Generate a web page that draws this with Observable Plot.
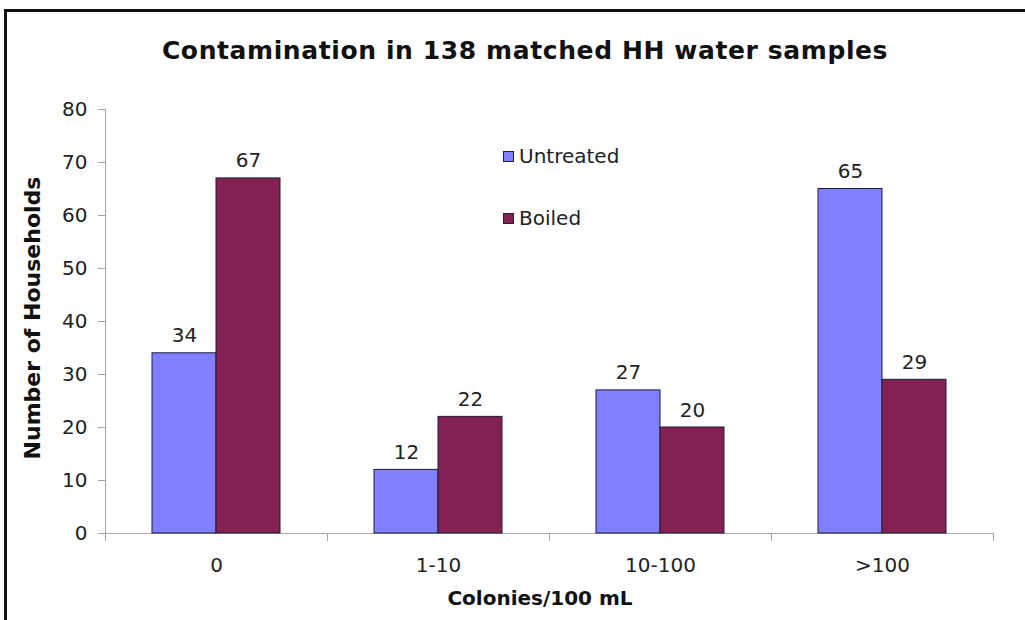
<!DOCTYPE html>
<html>
<head>
<meta charset="utf-8">
<script src="https://cdn.jsdelivr.net/npm/d3@7"></script>
<script src="https://cdn.jsdelivr.net/npm/@observablehq/plot@0.6"></script>
<style>
  html, body { margin: 0; padding: 0; background: #fff; }
  #wrap { position: relative; width: 1025px; height: 620px; overflow: hidden; font-family: "DejaVu Sans", Verdana, sans-serif; color: #222; }
  #frame { position: absolute; left: 4px; top: 9px; right: -10px; bottom: -10px; border-top: 3px solid #111; border-left: 3px solid #111; }
  #title { position: absolute; left: 525px; top: 50px; transform: translate(-50%, -50%); font-size: 25px; letter-spacing: 0.6px; font-weight: bold; color: #111; white-space: nowrap; }
  #ylab { position: absolute; left: 32px; top: 318px; transform: translate(-50%, -50%) rotate(-90deg); font-size: 22px; font-weight: bold; color: #111; white-space: nowrap; }
  #xlab { position: absolute; left: 540px; top: 598px; transform: translate(-50%, -50%); font-size: 20px; font-weight: bold; color: #111; white-space: nowrap; }
  #chart { position: absolute; left: 0; top: 0; }
  .leg { position: absolute; left: 503px; font-size: 20px; color: #222; white-space: nowrap; display: flex; align-items: center; transform: translateY(-50%); }
  .leg span.sw { display: inline-block; width: 9px; height: 9px; border: 1px solid #222; margin-right: 5px; }
</style>
</head>
<body>
<div id="wrap">
  <div id="frame"></div>
  <div id="chart"></div>
  <div id="title">Contamination in 138 matched HH water samples</div>
  <div id="ylab">Number of Households</div>
  <div id="xlab">Colonies/100 mL</div>
  <div id="legend"></div>
</div>
<script>
const categories = ["0", "1-10", "10-100", ">100"];
const series = ["Untreated", "Boiled"];
const untreated = [34, 12, 27, 65];
const boiled = [67, 22, 20, 29];
const colors = ["#8080ff", "#852052"];
const yTicks = [0, 10, 20, 30, 40, 50, 60, 70, 80];

const data = [];
categories.forEach((c, i) => {
  data.push({cat: c, series: "Untreated", value: untreated[i]});
  data.push({cat: c, series: "Boiled", value: boiled[i]});
});

const W = 1025, H = 620, mT = 109, mB = 87, mL = 105, mR = 32;
const innerH = H - mT - mB;
const axisColor = "#a6a6a6";

const chart = Plot.plot({
  width: W, height: H,
  marginTop: mT, marginBottom: mB, marginLeft: mL, marginRight: mR,
  style: {fontFamily: "DejaVu Sans, Verdana, sans-serif", background: "transparent", color: "#222"},
  fx: {domain: categories, padding: 0, label: null},
  x: {domain: series, paddingInner: 0, paddingOuter: 0.734, axis: null},
  y: {domain: [0, 80], label: null},
  color: {domain: series, range: colors},
  marks: [
    Plot.frame({anchor: "left", facet: "super", stroke: axisColor}),
    Plot.ruleY([0], {stroke: axisColor}),
    Plot.frame({anchor: "left", insetTop: innerH, insetBottom: -7, stroke: axisColor}),
    Plot.frame({anchor: "right", insetTop: innerH, insetBottom: -7, stroke: axisColor}),
    Plot.axisY({ticks: yTicks, tickSize: 7, tickFormat: () => "", color: axisColor, label: null}),
    Plot.axisY({ticks: yTicks, tickSize: 0, tickPadding: 18, fontSize: 20, color: "#222", label: null}),
    Plot.axisFx({anchor: "bottom", tickSize: 0, tickPadding: 24, fontSize: 20, color: "#222", label: null}),
    Plot.barY(data, {fx: "cat", x: "series", y: "value", fill: "series", stroke: "#1c1c3a", strokeWidth: 1}),
    Plot.text(data, {fx: "cat", x: "series", y: "value", text: d => String(d.value), lineAnchor: "bottom", dy: -11, fontSize: 20, fill: "#222"})
  ]
});
document.getElementById("chart").appendChild(chart);

const legend = document.getElementById("legend");
series.forEach((s, i) => {
  const el = document.createElement("div");
  el.className = "leg";
  el.style.top = (156 + i * 62) + "px";
  el.innerHTML = `<span class="sw" style="background:${colors[i]}"></span>${s}`;
  legend.appendChild(el);
});
</script>
</body>
</html>
